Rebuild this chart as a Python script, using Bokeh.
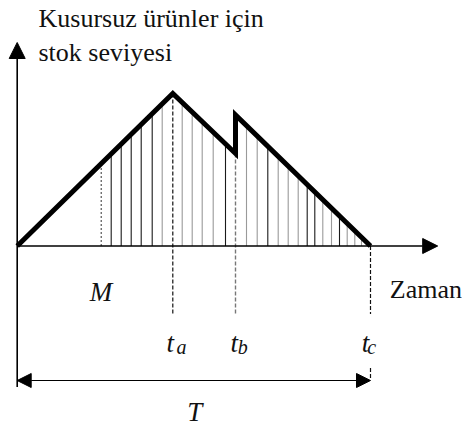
import numpy as np
from bokeh.plotting import figure
from bokeh.models import Range1d, Arrow, NormalHead
from bokeh.core.properties import value
from bokeh.embed import file_html
from bokeh.resources import INLINE

# ---------------- data ----------------
title_lines = ["Kusursuz ürünler için", "stok seviyesi"]
x_axis_label = "Zaman"
M_time = 84.0
t_a, t_b, t_c = 155.6, 218.3, 353.3
curve_t = [0.0, t_a, t_b, t_b, t_c]
curve_level = [0.0, 152.5, 92.5, 131.0, 0.0]
hatch_t = [94.0, 104.0, 114.0, 124.0, 135.0, 145.0, 165.0, 175.0, 185.0, 196.0,
           208.3, 229.3, 240.0, 250.6, 261.0, 271.0, 281.0, 290.0, 297.6, 305.6,
           314.3, 322.3, 330.0, 337.6, 344.3, 350.0]
event_labels = ["a", "b", "c"]
event_times = [t_a, t_b, t_c]

# ---------------- styles ----------------
hatch_shade = ["k", "k", "k", "k", "k", "g", "g", "g", "g", "g", "k", "g", "g", "k",
               "g", "g", "g", "k", "k", "g", "g", "k", "g", "g", "g", "g"]
shade_col = {"k": "#1a1a1a", "g": "#9a9a9a"}
SERIF = value("Liberation Serif")
DY = 9.0  # baseline correction for svg text placement

W, H = 462, 425
p = figure(width=W, height=H, output_backend="svg", toolbar_location=None,
           x_range=Range1d(-16.7, 445.3), y_range=Range1d(-179.5, 245.5),
           min_border=0)
p.axis.visible = False
p.grid.visible = False
p.outline_line_color = None
p.background_fill_color = "white"

def level_at(t):
    if t <= t_b:
        return float(np.interp(t, curve_t[:3], curve_level[:3]))
    return float(np.interp(t, curve_t[3:], curve_level[3:]))

# hatch lines under the curve
hx = list(hatch_t)
p.segment(x0=hx, y0=[0] * len(hx), x1=hx, y1=[level_at(t) for t in hx],
          line_color=[shade_col[s] for s in hatch_shade], line_width=1.1)

# M dotted line
p.segment(x0=[M_time], y0=[0], x1=[M_time], y1=[level_at(M_time)],
          line_color="#333333", line_width=1, line_dash="2 2")

# dashed drop lines
drop_bottom = -68.0
p.segment(x0=[t_a], y0=[curve_level[1]], x1=[t_a], y1=[drop_bottom],
          line_color="#111111", line_width=1.2, line_dash="4 2")
p.segment(x0=[t_b], y0=[curve_level[2]], x1=[t_b], y1=[drop_bottom],
          line_color="#777777", line_width=1.4, line_dash="4 2")
p.segment(x0=[t_c, t_c], y0=[0, -122.0], x1=[t_c, t_c], y1=[drop_bottom, -132.0],
          line_color="#111111", line_width=1.2, line_dash="4 2")

# axes with arrows
x_axis_end = 420.5
y_axis_top = 203.5
y_axis_bottom = -141.0
p.add_layout(Arrow(end=NormalHead(size=15, fill_color="black", line_color="black"),
                   x_start=0, y_start=0, x_end=x_axis_end, y_end=0,
                   line_color="black", line_width=1.6))
p.add_layout(Arrow(end=NormalHead(size=16, fill_color="black", line_color="black"),
                   x_start=0, y_start=y_axis_bottom, x_end=0, y_end=y_axis_top,
                   line_color="black", line_width=1.6))

# T double arrow
T_level = -134.5
p.add_layout(Arrow(start=NormalHead(size=14, fill_color="black", line_color="black"),
                   end=NormalHead(size=14, fill_color="black", line_color="black"),
                   x_start=0, y_start=T_level, x_end=t_c, y_end=T_level,
                   line_color="black", line_width=1.2))

# stock curve
p.line(curve_t, curve_level, line_color="black", line_width=5, line_join="miter")

# texts
p.text(x=[21.3, 21.3], y=[218.5 + DY, 184.5 + DY], text=title_lines, text_font=SERIF,
       text_font_size="26px", text_color="#111111", text_baseline="alphabetic")
p.text(x=[372.6], y=[-52.8 + DY], text=[x_axis_label], text_font=SERIF,
       text_font_size="26px", text_color="#111111", text_baseline="alphabetic")
p.text(x=[72.6], y=[-54.5 + DY], text=["M"], text_font=SERIF, text_font_style="italic",
       text_font_size="27px", text_color="#111111", text_baseline="alphabetic")
p.text(x=[170.0], y=[-174.5 + DY], text=["T"], text_font=SERIF, text_font_style="italic",
       text_font_size="27px", text_color="#111111", text_baseline="alphabetic")
t_offsets = [-6.3, -5.0, -8.7]
sub_offsets = [3.7, 2.3, -3.3]
p.text(x=[t + o for t, o in zip(event_times, t_offsets)], y=[-106.2 + DY] * 3,
       text=["t"] * 3, text_font=SERIF, text_font_style="italic",
       text_font_size="27px", text_color="#111111", text_baseline="alphabetic")
p.text(x=[t + o for t, o in zip(event_times, sub_offsets)], y=[-109.5 + DY] * 3,
       text=event_labels, text_font=SERIF, text_font_style="italic",
       text_font_size="20px", text_color="#111111", text_baseline="alphabetic")

open("out.html", "w").write(file_html(p, INLINE))
